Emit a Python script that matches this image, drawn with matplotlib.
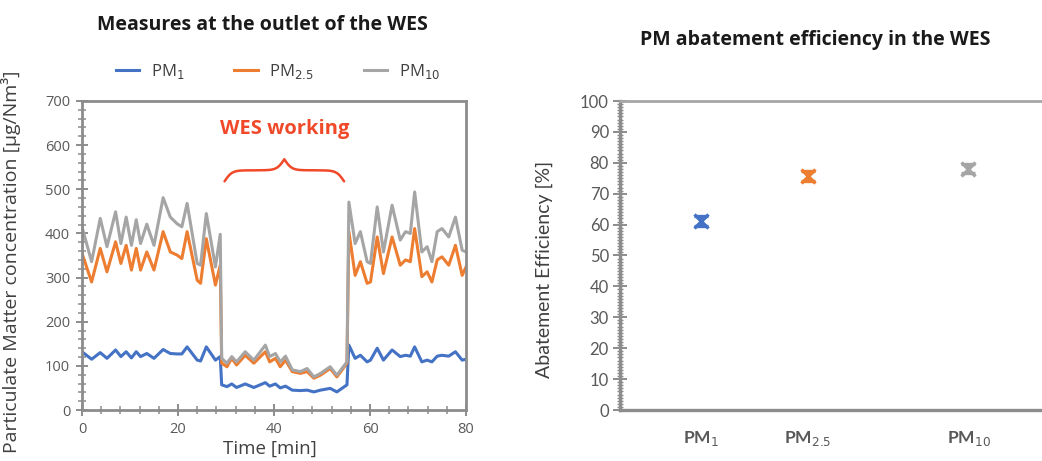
import numpy as np
import matplotlib
matplotlib.use("Agg")
import matplotlib.pyplot as plt
from matplotlib.ticker import MultipleLocator

# ---------------- data ----------------
time_before = [0, 2, 3.8, 5.2, 7, 8.1, 9.2, 10.3, 11.3, 12.2, 13.5, 15, 16.9, 18.4,
               19.8, 20.8, 21.9, 24, 24.7, 25.9, 27.8, 28.8]
time_wes = [29.1, 30.2, 31.2, 32.2, 34, 35.8, 38.2, 39.1, 40.3, 41.3, 42.4, 43.8,
            45.5, 46.9, 48.3, 49.7, 51.7, 53.1, 55.2]
time_after = [55.6, 56.9, 58, 59.4, 60.1, 61.5, 62.8, 64.6, 66.3, 67.4, 68.4, 69.3,
              70.8, 71.9, 72.9, 74, 75, 76.4, 77.8, 79.2, 80]

pm10_before = [415, 336, 434, 370, 449, 377, 437, 373, 431, 377, 421, 373, 481, 437,
               422, 415, 468, 332, 328, 445, 324, 398]
pm25_before = [355, 290, 366, 313, 381, 332, 373, 317, 366, 317, 358, 317, 404, 358,
               351, 343, 404, 294, 287, 388, 283, 328]
pm1_before = [132, 115, 130, 117, 136, 121, 132, 118, 132, 121, 128, 117, 137, 128,
              127, 127, 143, 113, 111, 143, 113, 121]

pm10_wes = [117, 106, 121, 109, 132, 113, 147, 121, 128, 109, 122, 91, 87, 94, 75, 83, 98, 79, 109]
pm25_wes = [106, 98, 117, 102, 124, 106, 132, 109, 117, 98, 113, 87, 83, 87, 72, 79, 94, 75, 106]
pm1_wes = [57, 53, 59, 51, 59, 51, 62, 54, 59, 50, 54, 45, 44, 45, 41, 45, 49, 41, 57]

pm10_after = [471, 377, 404, 336, 332, 460, 358, 464, 385, 404, 400, 494, 358, 370,
              336, 404, 411, 392, 437, 362, 358]
pm25_after = [404, 305, 336, 287, 290, 392, 309, 392, 328, 340, 336, 411, 302, 313,
              290, 340, 347, 328, 373, 305, 324]
pm1_after = [147, 117, 124, 109, 113, 140, 113, 136, 121, 124, 122, 143, 109, 113,
             109, 122, 124, 122, 132, 113, 115]

series_labels = [r"PM$_{1}$", r"PM$_{2.5}$", r"PM$_{10}$"]
series_colors = ["#4472C4", "#ED7D31", "#A5A5A5"]

eff_categories = [r"PM$_{1}$", r"PM$_{2.5}$", r"PM$_{10}$"]
eff_positions = [1.0, 2.0, 3.5]
eff_values = [61.2, 75.8, 78.1]
eff_errors = [1.6, 1.6, 1.4]

# ---------------- figure ----------------
fig = plt.figure(figsize=(10.42, 4.61), dpi=100)
plt.rcParams['font.family'] = ['Open Sans', 'DejaVu Sans']

tick_col = "#595959"
spine_col = "#8C8C8C"
text_col = "#404040"

# ---- left chart ----
ax1 = fig.add_axes([82 / 1042, 51 / 461, 384 / 1042, 309 / 461])
time_all = time_before + time_wes + time_after
data = [pm1_before + pm1_wes + pm1_after,
        pm25_before + pm25_wes + pm25_after,
        pm10_before + pm10_wes + pm10_after]
for vals, lab, col in zip(data, series_labels, series_colors):
    ax1.plot(time_all, vals, color=col, lw=2.2, label=lab, solid_joinstyle='round')

ax1.set_xlim(0, 80)
ax1.set_ylim(0, 700)
ax1.xaxis.set_major_locator(MultipleLocator(20))
ax1.xaxis.set_minor_locator(MultipleLocator(4))
ax1.yaxis.set_major_locator(MultipleLocator(100))
ax1.yaxis.set_minor_locator(MultipleLocator(20))
for s in ax1.spines.values():
    s.set_color(spine_col)
    s.set_linewidth(2.0)
ax1.tick_params(axis='both', which='major', length=9, width=1.4, color=spine_col,
                labelsize=10.5, labelcolor=tick_col, direction='inout', pad=4)
ax1.tick_params(axis='both', which='minor', length=6, width=1.1, color=spine_col,
                direction='inout')
ax1.set_xlabel("Time [min]", fontsize=13.5, color=text_col, labelpad=0)
ax1.xaxis.set_label_coords(0.49, -0.095)
ax1.set_ylabel("Particulate Matter concentration [μg/Nm³]", fontsize=14,
               color=text_col)
ax1.yaxis.set_label_coords(-0.16, 0.48)

ax1.text(0.47, (461 - 25 - 51) / 309, "Measures at the outlet of the WES",
         transform=ax1.transAxes, ha='center', va='center', fontsize=14,
         fontweight='bold', color="#1a1a1a")
leg = ax1.legend(loc='center', bbox_to_anchor=(0.51, 1.095), ncol=3, frameon=False,
                 fontsize=12, handlelength=1.4, columnspacing=3.0, handletextpad=0.7,
                 labelcolor=text_col)

# WES working brace and label
def brace_curve(x0, x1, ybase, height, beta, n=201):
    xs = np.linspace(x0, x1, n)
    xh = xs[: n // 2 + 1]
    yh = 1 / (1 + np.exp(-beta * (xh - xh[0]))) + 1 / (1 + np.exp(-beta * (xh - xh[-1])))
    ys = np.concatenate((yh, yh[-2::-1]))
    return xs, ybase + (ys - 0.5) * height

bx, by = brace_curve(29.7, 54.6, 518, 50, 1.3)
ax1.plot(bx, by, color="#F0492A", lw=1.8, solid_capstyle='round')
ax1.text(42.3, 637, "WES working", color="#F0492A", fontsize=14.5, fontweight='bold',
         ha='center', va='center')

# ---- right chart ----
ax2 = fig.add_axes([620 / 1042, 51 / 461, 480 / 1042, 309 / 461])
for x, v, e, col in zip(eff_positions, eff_values, eff_errors, series_colors):
    ax2.errorbar(x, v, yerr=e, fmt='x', color=col, ms=10, mew=2.4, capsize=5,
                 elinewidth=1.8, capthick=1.8)
ax2.set_ylim(0, 100)
ax2.set_xlim(0.243, 0.243 + 480 / 107)
ax2.yaxis.set_major_locator(MultipleLocator(10))
ax2.yaxis.set_minor_locator(MultipleLocator(1))
ax2.set_xticks(eff_positions)
ax2.set_xticklabels(eff_categories, fontsize=12.5, fontweight='bold', color=tick_col,
                    family=['Lato', 'DejaVu Sans'])
ax2.tick_params(axis='x', length=0, pad=14)
ax2.tick_params(axis='y', which='major', length=10, width=1.4, color=spine_col,
                labelsize=12, labelcolor=tick_col, direction='inout', pad=3)
ax2.tick_params(axis='y', which='minor', length=5, width=1.0, color=spine_col,
                direction='inout')
for lab in ax2.get_yticklabels():
    lab.set_family(['Lato', 'DejaVu Sans'])
for name, s in ax2.spines.items():
    s.set_color(spine_col)
    s.set_linewidth(2.4)
ax2.spines['top'].set_color('#A6A6A6')
ax2.spines['top'].set_linewidth(2.0)
ax2.spines['right'].set_visible(False)
ax2.set_ylabel("Abatement Efficiency [%]", fontsize=14, color=text_col,
               family=['Lato', 'DejaVu Sans'])
ax2.yaxis.set_label_coords(-0.14, 0.455)
ax2.text((815 - 620) / 480, (461 - 40 - 51) / 309, "PM abatement efficiency in the WES",
         transform=ax2.transAxes, ha='center', va='center', fontsize=14,
         fontweight='bold', color="#1a1a1a")

fig.savefig("out.png", dpi=100)
